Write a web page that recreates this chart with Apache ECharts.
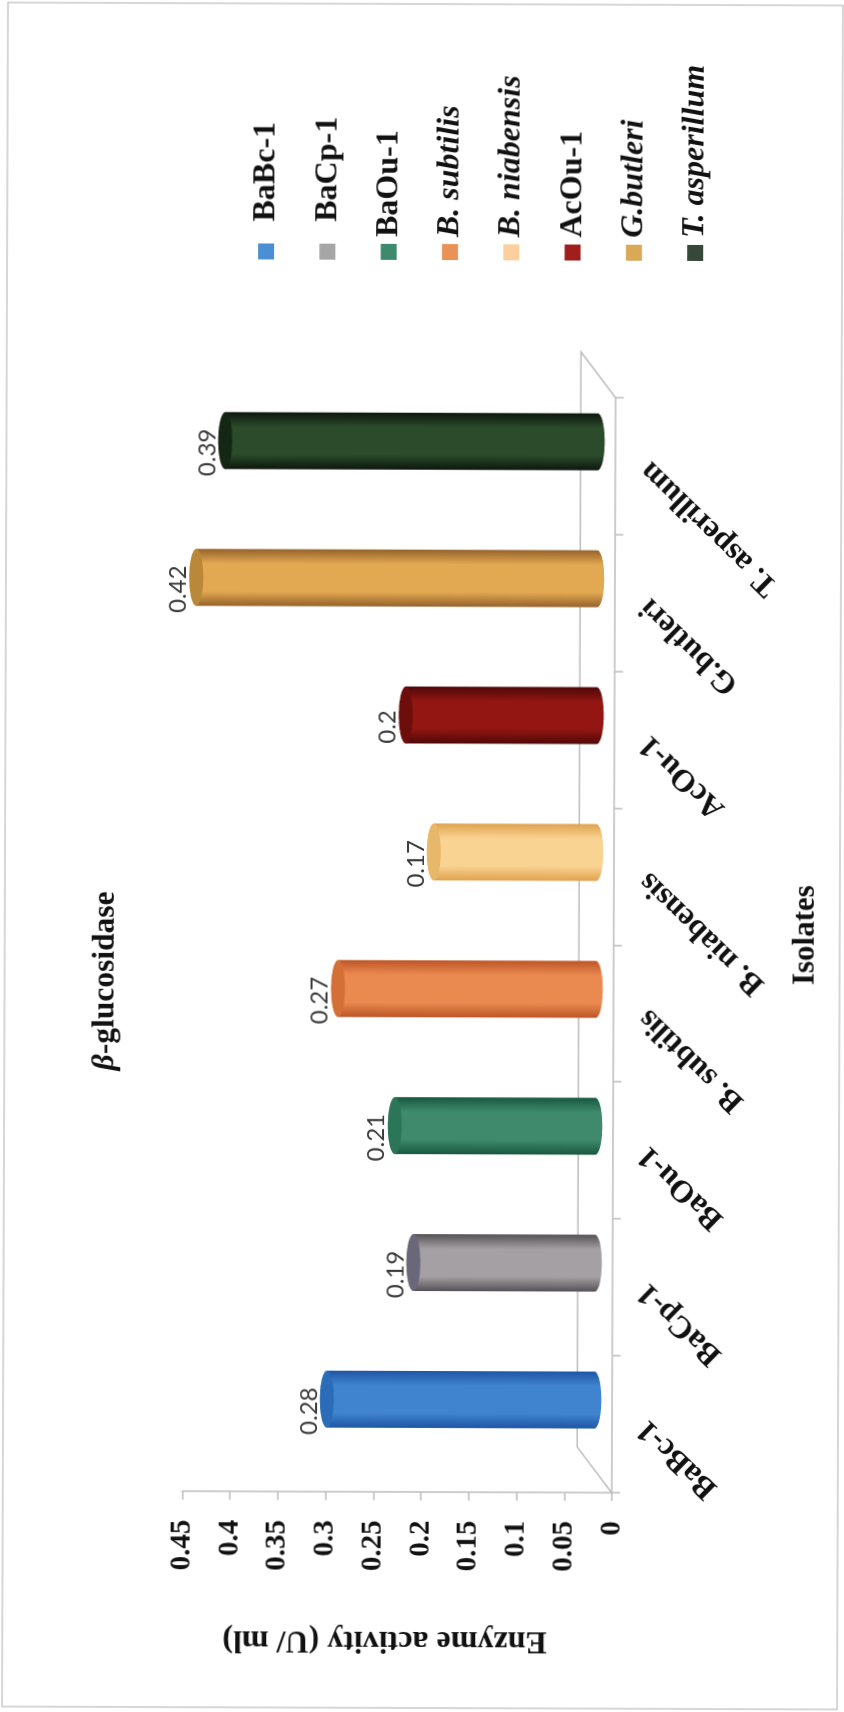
<!DOCTYPE html>
<html>
<head>
<meta charset="utf-8">
<style>
  html, body { margin: 0; padding: 0; background: #fff; width: 844px; height: 1712px; overflow: hidden; }
  /* The figure is laid out landscape and turned a quarter turn on the page. */
  #chart { position: absolute; left: -434px; top: 434px; width: 1712px; height: 844px; transform: rotate(-89.8deg); transform-origin: 50% 50%; }
</style>
<script src="https://cdn.jsdelivr.net/npm/echarts@6/dist/echarts.min.js"></script>
</head>
<body>
<div id="chart"></div>
<script>
const categories = ['BaBc-1', 'BaCp-1', 'BaOu-1', 'B. subtilis', 'B. niabensis', 'AcOu-1', 'G.butleri', 'T. asperillum'];
const values = [0.28, 0.19, 0.21, 0.27, 0.17, 0.2, 0.42, 0.39];
const italicNames = ['B. subtilis', 'B. niabensis', 'G.butleri', 'T. asperillum'];
const legendColors = ['#4a8fd4', '#a6a6a6', '#3f8a6c', '#ea9155', '#fccf9c', '#9e1f1c', '#d9a957', '#37483a'];
// edge, body highlight, cap shade for each cylinder
const edgeColors = ['#1f55a5', '#555257', '#17583f', '#bd5526', '#dfa24e', '#4e0808', '#95622a', '#0c170d'];
const bodyColors = ['#4084cf', '#a5a0a3', '#3f8a6c', '#ea8a50', '#f9d392', '#931612', '#e3a952', '#2b4b2b'];
const capColors = ['#2a6cb8', '#6a6878', '#2c7558', '#d27038', '#e8b86a', '#6e0e0c', '#b98838', '#142614'];
// Legend entries whose text box sits further from its swatch
const widerLegendGap = ['BaBc-1', 'BaCp-1'];
const tickLabels = { axisMax: 0.45, step: 0.05 };

const serif = '"Liberation Serif", "Times New Roman", serif';
const ink = '#111';
const axisGrey = '#bdbdbd';

// Oblique floor offset of the 3-D plot box, in pixels.
const depthX = 46, depthY = 35;
// Bars stand in the middle of the floor.
const barShiftX = 24.5, barShiftY = 18;

function cylinder(i) {
  return function (params, api) {
    const cat = api.value(0), val = api.value(1);
    const base = api.coord([cat, 0]);
    const top = api.coord([cat, val]);
    const halfW = api.size([1, 0])[0] * 0.208;
    const ry = 7;
    const cx = base[0] + barShiftX;
    const yBase = base[1] - barShiftY;
    const yTop = top[1] - barShiftY;
    const fill = {
      type: 'linear', x: 0, y: 0, x2: 1, y2: 0,
      colorStops: [
        { offset: 0, color: edgeColors[i] },
        { offset: 0.26, color: bodyColors[i] },
        { offset: 0.74, color: bodyColors[i] },
        { offset: 1, color: edgeColors[i] }
      ]
    };
    const k = 0.5523;
    const x0 = cx - halfW, x1 = cx + halfW;
    const bodyPath = 'M' + x0 + ' ' + yTop + 'L' + x0 + ' ' + yBase +
      'C' + x0 + ' ' + (yBase + ry * k) + ' ' + (cx - halfW * k) + ' ' + (yBase + ry) + ' ' + cx + ' ' + (yBase + ry) +
      'C' + (cx + halfW * k) + ' ' + (yBase + ry) + ' ' + x1 + ' ' + (yBase + ry * k) + ' ' + x1 + ' ' + yBase +
      'L' + x1 + ' ' + yTop + 'Z';
    return {
      type: 'group',
      children: [
        { type: 'path', shape: { pathData: bodyPath }, style: { fill: fill } },
        { type: 'ellipse', shape: { cx: cx, cy: yTop, rx: halfW, ry: ry }, style: { fill: capColors[i] } },
        {
          type: 'text',
          style: {
            x: cx - 12, y: yTop - ry - 11,
            text: String(val),
            font: '24px Lato, "Open Sans", sans-serif',
            fill: '#3a3a3a', align: 'center', verticalAlign: 'middle'
          }
        }
      ]
    };
  };
}

// Floor outline of the 3-D box behind the bars.
function floorOutline(params, api) {
  const r = params.coordSys;
  const yAxisLine = r.y + r.height;
  return {
    type: 'polyline',
    shape: {
      points: [
        [r.x, yAxisLine],
        [r.x + depthX, yAxisLine - depthY],
        [r.x + r.width + depthX, yAxisLine - depthY],
        [r.x + r.width, yAxisLine]
      ]
    },
    style: { stroke: axisGrey, lineWidth: 1.5, fill: null },
    silent: true
  };
}

const barSeries = categories.map((name, i) => ({
  name: name,
  type: 'custom',
  coordinateSystem: 'cartesian2d',
  renderItem: cylinder(i),
  itemStyle: { color: legendColors[i] },
  encode: { x: 0, y: 1 },
  data: [[i, values[i]]],
  z: 3
}));

const chart = echarts.init(document.getElementById('chart'), null, { renderer: 'canvas', width: 1712, height: 844 });
chart.setOption({
  animation: false,
  backgroundColor: '#fff',
  title: {
    text: '{i|β}{b|-glucosidase}',
    left: 725, top: 85, textAlign: 'center',
    textStyle: {
      rich: {
        i: { fontFamily: serif, fontWeight: 'bold', fontStyle: 'italic', fontSize: 31.5, color: ink },
        b: { fontFamily: serif, fontWeight: 'bold', fontSize: 31.5, color: ink }
      }
    }
  },
  legend: {
    orient: 'vertical',
    left: 1447, top: 243,
    itemWidth: 16, itemHeight: 16, itemGap: 29.3,
    align: 'left',
    data: categories.map(name => ({
      name: name,
      icon: 'rect',
      textStyle: {
        fontFamily: serif, fontWeight: 'bold', fontSize: 32, color: ink,
        fontStyle: italicNames.includes(name) ? 'italic' : 'normal',
        padding: [0, 0, 0, widerLegendGap.includes(name) ? 17 : 2]
      }
    }))
  },
  grid: { left: 219.6, right: 397.3, top: 184.5, bottom: 229.8, containLabel: false },
  xAxis: {
    type: 'category',
    data: categories,
    name: 'Isolates',
    nameLocation: 'middle',
    nameGap: 164,
    nameTextStyle: { fontFamily: serif, fontWeight: 'bold', fontSize: 31, color: ink, padding: [0, 0, 0, 22] },
    axisLine: { show: true, lineStyle: { color: axisGrey, width: 1.5 } },
    axisTick: { show: true, alignWithLabel: false, length: 8, lineStyle: { color: axisGrey, width: 1.5 } },
    axisLabel: { interval: 0, rotate: 46, margin: 30, fontFamily: serif, fontWeight: 'bold', fontSize: 31.5, color: ink },
    splitLine: { show: false }
  },
  yAxis: {
    type: 'value',
    min: 0, max: tickLabels.axisMax, interval: tickLabels.step,
    name: 'Enzyme activity (U/ ml)',
    nameLocation: 'middle',
    nameRotate: 90,
    nameGap: 132,
    nameTextStyle: { fontFamily: serif, fontWeight: 'bold', fontSize: 32, color: ink, padding: [0, 0, 0, 24] },
    axisLine: { show: true, lineStyle: { color: axisGrey, width: 1.5 } },
    axisTick: { show: true, length: 8, lineStyle: { color: axisGrey, width: 1.5 } },
    axisLabel: { margin: 28, fontFamily: serif, fontWeight: 'bold', fontSize: 29, color: ink },
    splitLine: { show: false }
  },
  graphic: [{
    type: 'rect', silent: true, z: -1,
    shape: { x: 4, y: 5, width: 1704, height: 835 },
    style: { fill: null, stroke: '#c9c9c9', lineWidth: 1.5 }
  }],
  series: [{
    name: 'floor', type: 'custom', coordinateSystem: 'cartesian2d',
    renderItem: floorOutline, data: [[0, 0]], silent: true, z: 1
  }].concat(barSeries)
});
</script>
</body>
</html>
